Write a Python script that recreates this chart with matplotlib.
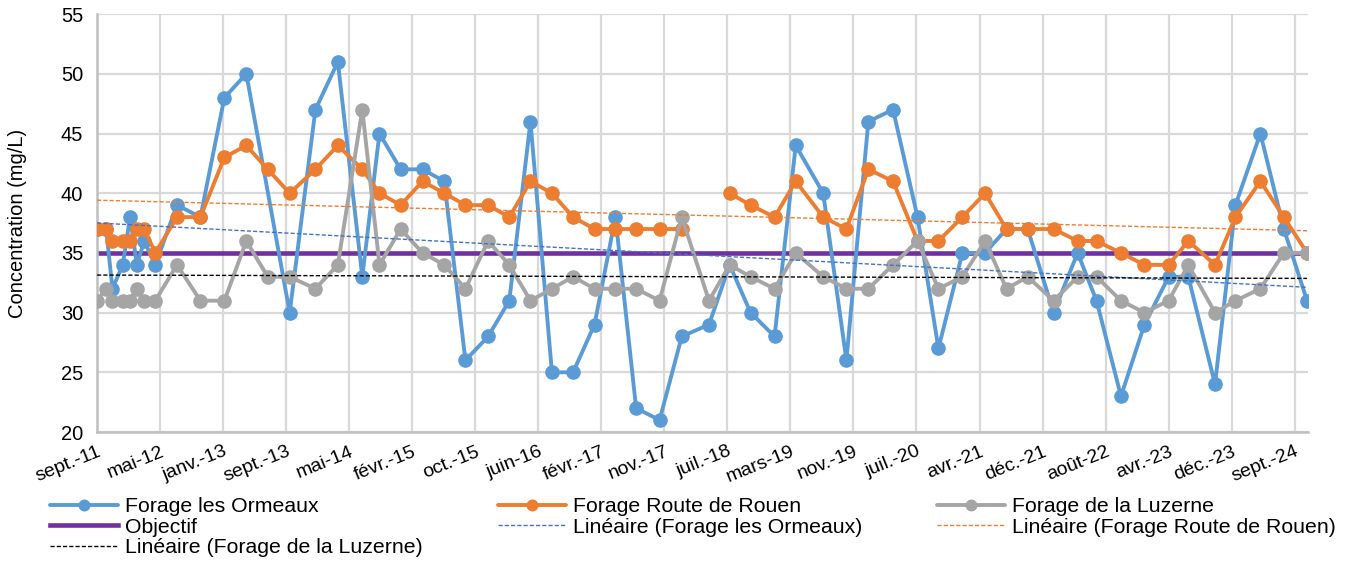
import numpy as np
import matplotlib
matplotlib.use('Agg')
import matplotlib.pyplot as plt
import matplotlib.dates as mdates
from datetime import date, timedelta

plt.rcParams['font.family'] = ['Liberation Sans', 'DejaVu Sans']

# dates de prélèvement
dates = ['2011-09-04', '2011-10-10', '2011-11-04', '2011-12-15', '2012-01-13', '2012-02-09',
         '2012-03-09', '2012-04-22', '2012-07-17', '2012-10-18', '2013-01-21', '2013-04-18',
         '2013-07-12', '2013-10-07', '2014-01-17', '2014-04-16', '2014-07-22', '2014-09-28',
         '2014-12-21', '2015-03-18', '2015-06-12', '2015-09-04', '2015-12-03', '2016-02-25',
         '2016-05-19', '2016-08-12', '2016-11-04', '2017-01-28', '2017-04-21', '2017-07-12',
         '2017-10-13', '2018-01-09', '2018-04-27', '2018-07-18', '2018-10-09', '2019-01-12',
         '2019-04-06', '2019-07-24', '2019-10-24', '2020-01-19', '2020-04-26', '2020-08-01',
         '2020-10-23', '2021-01-26', '2021-04-26', '2021-07-20', '2021-10-12', '2022-01-23',
         '2022-04-28', '2022-07-12', '2022-10-17', '2023-01-18', '2023-04-24', '2023-07-11',
         '2023-10-25', '2024-01-14', '2024-04-22', '2024-07-24', '2024-10-24']

# None = pas de mesure
ormeaux = [37, 37, 32, 34, 38, 34, 36, 34, 39, 38, 48, 50,
           None, 30, 47, 51, 33, 45, 42, 42, 41, 26, 28, 31,
           46, 25, 25, 29, 38, 22, 21, 28, 29, 34, 30, 28,
           44, 40, 26, 46, 47, 38, 27, 35, 35, 37, 37, 30,
           35, 31, 23, 29, 33, 33, 24, 39, 45, 37, 31]

rouen = [37, 37, 36, 36, 36, 37, 37, 35, 38, 38, 43, 44,
         42, 40, 42, 44, 42, 40, 39, 41, 40, 39, 39, 38,
         41, 40, 38, 37, 37, 37, 37, 37, None, 40, 39, 38,
         41, 38, 37, 42, 41, 36, 36, 38, 40, 37, 37, 37,
         36, 36, 35, 34, 34, 36, 34, 38, 41, 38, 35]

luzerne = [31, 32, 31, 31, 31, 32, 31, 31, 34, 31, 31, 36,
           33, 33, 32, 34, 47, 34, 37, 35, 34, 32, 36, 34,
           31, 32, 33, 32, 32, 32, 31, 38, 31, 34, 33, 32,
           35, 33, 32, 32, 34, 36, 32, 33, 36, 32, 33, 31,
           33, 33, 31, 30, 31, 34, 30, 31, 32, 35, 35]

objectif = 35

mois = ['janv.', 'févr.', 'mars', 'avr.', 'mai', 'juin',
        'juil.', 'août', 'sept.', 'oct.', 'nov.', 'déc.']

x = np.array(dates, dtype='datetime64[D]')
xnum = mdates.date2num(x)

fig = plt.figure(figsize=(13.48, 5.64), dpi=100)
ax = fig.add_axes([0.072, 0.234, 0.898, 0.741])

# (valeurs, couleur, couleur tendance, nom, relier les trous)
series = [
    (ormeaux, '#5B9BD5', '#4472C4', 'Forage les Ormeaux', True),
    (rouen, '#ED7D31', '#ED7D31', 'Forage Route de Rouen', False),
    (luzerne, '#A5A5A5', '#000000', 'Forage de la Luzerne', False),
]

h_main = []
h_trend = []
for vals, col, tcol, name, relier in series:
    y = np.array(vals, dtype=float)
    ok = ~np.isnan(y)
    if relier:
        l, = ax.plot(x[ok], y[ok], color=col, lw=2.8, marker='o', ms=9.5, zorder=3,
                     solid_capstyle='round', label=name)
    else:
        l, = ax.plot(x, y, color=col, lw=2.8, marker='o', ms=9.5, zorder=3,
                     solid_capstyle='round', label=name)
    h_main.append(l)
    a, b = np.polyfit(xnum[ok], y[ok], 1)
    t, = ax.plot(x[[0, -1]], a * xnum[[0, -1]] + b, color=tcol, lw=1.0,
                 ls=(0, (3, 1.5)), zorder=5, label='Linéaire (' + name + ')')
    h_trend.append(t)

obj, = ax.plot(x[[0, -1]], [objectif, objectif], color='#7030A0', lw=3.3,
               zorder=2, label='Objectif')

# axes
start = date(2011, 9, 4)
ticks = [start + timedelta(days=250 * k) for k in range(20)]
ax.set_xticks(ticks)
ax.set_xticklabels(['%s-%02d' % (mois[d.month - 1], d.year % 100) for d in ticks],
                   rotation=22, ha='right', rotation_mode='anchor', fontsize=14)
ax.set_xlim(start, x[-1] + np.timedelta64(2, 'D'))
ax.set_ylim(20, 55)
ax.set_yticks(range(20, 56, 5))
ax.tick_params(axis='y', labelsize=14.5, length=0, pad=10)
ax.tick_params(axis='x', length=0, pad=8)
ax.set_ylabel('Concentration (mg/L)', fontsize=14.5, labelpad=24)

ax.grid(True, color='#D9D9D9', lw=1.6)
ax.set_axisbelow(True)
for s in ['top', 'right']:
    ax.spines[s].set_visible(False)
for s in ['left', 'bottom']:
    ax.spines[s].set_color('#BFBFBF')
    ax.spines[s].set_linewidth(1.8)

# legende : 3 colonnes, remplie ligne par ligne
handles = [h_main[0], obj, h_trend[2], h_main[1], h_trend[0], h_main[2], h_trend[1]]
labels = [h.get_label() for h in handles]
fig.legend(handles, labels, ncol=3, loc='upper left', mode='expand',
           bbox_to_anchor=(50 / 1348, 1 - 497 / 564, 1286 / 1348, 0),
           frameon=False, fontsize=15.3, handlelength=3.2, handletextpad=0.33,
           labelspacing=0.08, borderaxespad=0, borderpad=0, markerscale=0.8)

fig.savefig('out.png', dpi=100)
